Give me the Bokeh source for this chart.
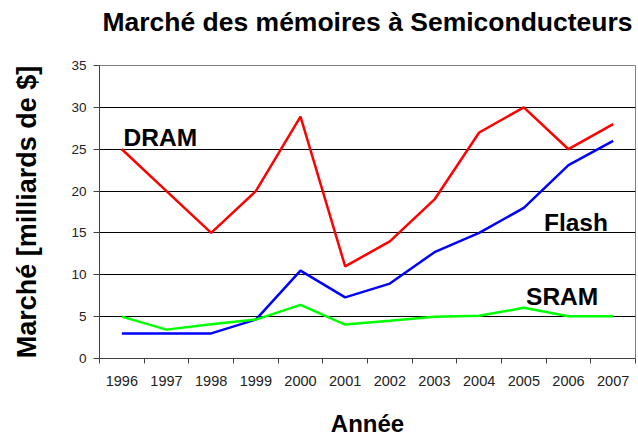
from bokeh.plotting import figure
from bokeh.models import FixedTicker, Range1d, Label, LinearAxis
from bokeh.embed import file_html
from bokeh.resources import INLINE

years = [1996, 1997, 1998, 1999, 2000, 2001, 2002, 2003, 2004, 2005, 2006, 2007]
dram = [25, 20, 15, 20, 28.9, 11, 14, 19, 27, 30, 25, 28]
flash = [3, 3, 3, 4.65, 10.5, 7.3, 8.95, 12.7, 15, 18, 23.1, 26]
sram = [5, 3.45, 4.1, 4.65, 6.4, 4.05, 4.5, 5, 5.1, 6.05, 5.05, 5.05]
y_ticks = [0, 5, 10, 15, 20, 25, 30, 35]
series_labels = ["DRAM", "Flash", "SRAM"]
title_text = "Marché des mémoires à Semiconducteurs"
x_title = "Année"
y_title = "Marché [milliards de $]"

FONT = "Liberation Sans"

p = figure(width=638, height=439, frame_width=536, frame_height=293,
           output_backend="svg", toolbar_location=None,
           x_range=Range1d(years[0] - 0.5, years[-1] + 0.5),
           y_range=Range1d(0, 35),
           min_border_left=99, min_border_right=3, min_border_top=65, min_border_bottom=81)
p.background_fill_color = "white"
p.border_fill_color = "white"
p.outline_line_color = "#808080"
p.outline_line_width = 1

# grid
p.xgrid.visible = False
p.ygrid.ticker = FixedTicker(ticks=y_ticks[1:-1])
p.ygrid.grid_line_color = "black"
p.ygrid.grid_line_width = 1

# x axis
p.xaxis.ticker = FixedTicker(ticks=years, minor_ticks=[y - 0.5 for y in years] + [years[-1] + 0.5])
p.xaxis.major_tick_out = 0
p.xaxis.major_tick_in = 0
p.xaxis.minor_tick_out = 5
p.xaxis.minor_tick_in = 0
p.xaxis.minor_tick_line_color = "#404040"
p.xaxis.axis_line_color = "#404040"
p.xaxis.major_label_text_font = FONT
p.xaxis.major_label_text_font_size = "14.5px"
p.xaxis.major_label_text_color = "#222222"
p.xaxis.major_label_standoff = 12
p.xaxis.axis_label = x_title
p.xaxis.axis_label_text_font = FONT
p.xaxis.axis_label_text_font_size = "24px"
p.xaxis.axis_label_text_font_style = "bold"
p.xaxis.axis_label_text_color = "black"
p.xaxis.axis_label_standoff = 21

# y axis
p.yaxis.ticker = FixedTicker(ticks=y_ticks)
p.yaxis.major_tick_out = 6
p.yaxis.major_tick_in = 0
p.yaxis.minor_tick_out = 0
p.yaxis.minor_tick_in = 0
p.yaxis.major_tick_line_color = "#404040"
p.yaxis.axis_line_color = "#404040"
p.yaxis.major_label_text_font = FONT
p.yaxis.major_label_text_font_size = "13.5px"
p.yaxis.major_label_text_color = "#222222"
p.yaxis.major_label_standoff = 7
p.yaxis.axis_label = y_title
p.yaxis.axis_label_text_font = FONT
p.yaxis.axis_label_text_font_size = "27px"
p.yaxis.axis_label_text_font_style = "bold"
p.yaxis.axis_label_text_color = "black"
p.yaxis.axis_label_standoff = 26

# chart title carried by an empty axis above the frame
top_axis = LinearAxis(ticker=FixedTicker(ticks=[]), axis_label=title_text)
top_axis.axis_line_color = None
top_axis.major_tick_line_color = None
top_axis.minor_tick_line_color = None
top_axis.major_label_text_font_size = "0px"
top_axis.major_label_standoff = 0
top_axis.axis_label_text_font = FONT
top_axis.axis_label_text_font_size = "26.5px"
top_axis.axis_label_text_font_style = "bold"
top_axis.axis_label_text_color = "black"
top_axis.axis_label_standoff = 29
p.add_layout(top_axis, "above")

p.line(years, dram, line_color="#FF0000", line_width=2.5)
p.line(years, flash, line_color="#0000FF", line_width=2.5)
p.line(years, sram, line_color="#00FF00", line_width=2.5)

label_pos = [(1996.04, 26.45), (2005.45, 16.25), (2005.05, 7.4)]
for txt, (x, y) in zip(series_labels, label_pos):
    p.add_layout(Label(x=x, y=y, text=txt, text_font=FONT, text_font_size="24.5px",
                       text_font_style="bold", text_color="black",
                       text_align="left", text_baseline="alphabetic"))

open("out.html", "w").write(file_html(p, INLINE))
